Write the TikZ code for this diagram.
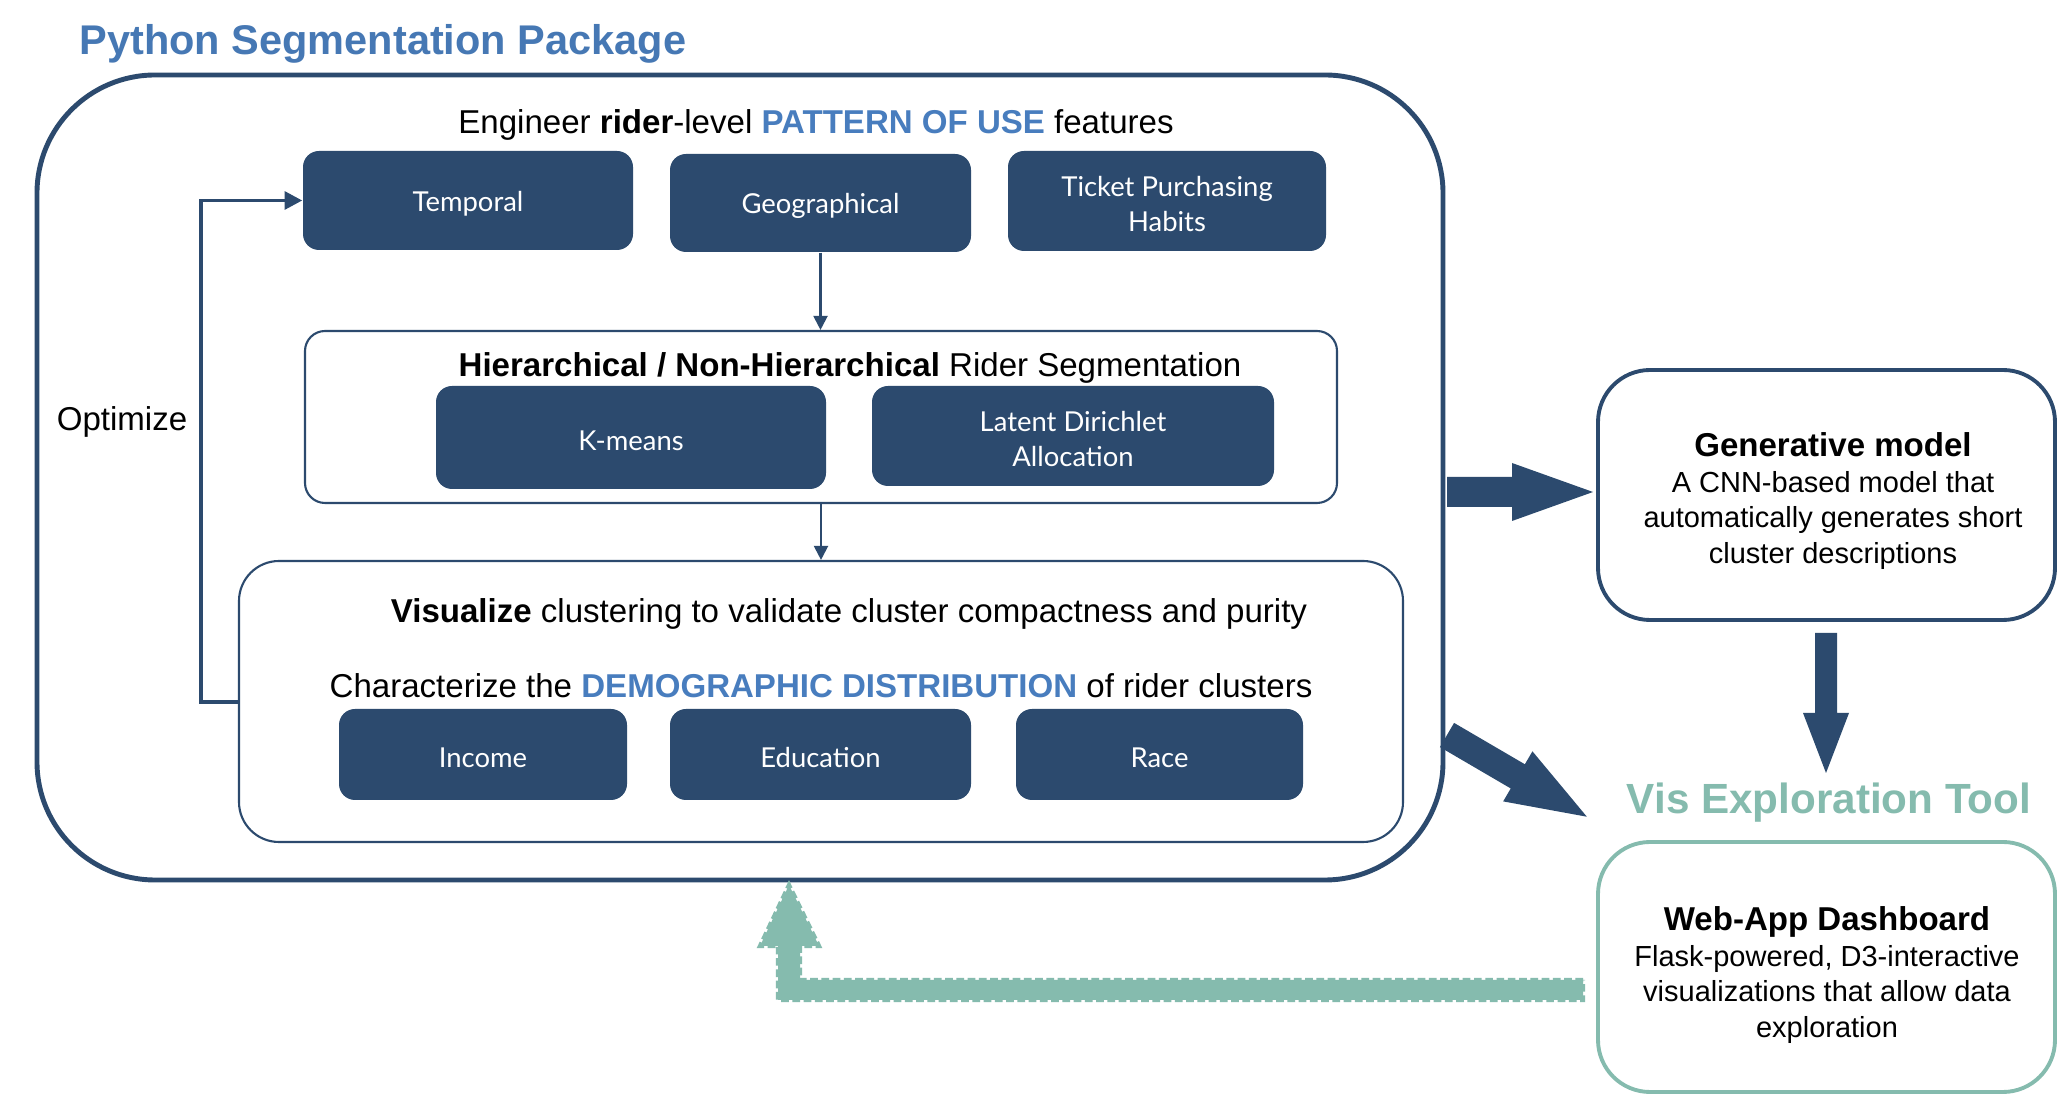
\documentclass[tikz,border=0pt]{standalone}
\usepackage{fontspec}
\setmainfont{Liberation Sans}
\newfontfamily\boxfont{Lato}
\usetikzlibrary{fit,arrows.meta}
\definecolor{navy}{RGB}{44,74,110}
\definecolor{titleblue}{RGB}{70,120,180}
\definecolor{accent}{RGB}{72,125,190}
\definecolor{teal}{RGB}{133,187,174}
\begin{document}
\begin{tikzpicture}[x=0.01cm,y=-0.01cm,
  dbox/.style={fill=navy, draw=none, rounded corners=0.16cm, inner sep=0pt},
  dtext/.style={inner sep=0pt, yshift=-0.9pt, text=white, align=center, font=\boxfont\fontsize{7.8}{10}\selectfont},
  thinbox/.style={draw=navy, line width=0.6pt, inner sep=0pt},
  txt/.style={inner sep=0pt, font=\fontsize{9.4}{11}\selectfont},
  thinarrow/.style={draw=navy, line width=0.6pt, -{Triangle[width=4pt,length=4pt]}},
  optarrow/.style={draw=navy, line width=1.1pt, -{Triangle[width=5pt,length=5pt]}},
  fat/.style={fill=navy, draw=none}]
\useasboundingbox (0,0) rectangle (2060,1095);
\fill[white] (0,0) rectangle (2060,1095);

% title
\node[anchor=west, inner sep=0pt, text=titleblue, font=\bfseries\fontsize{11.8}{14}\selectfont] (title) at (79,44) {Python Segmentation Package};

% outer box
\node[draw=navy, line width=1.4pt, rounded corners=1.18cm, inner sep=0pt, fit={(37,75) (1443,880)}] (outer) {};

\node[txt] (eng) at (816,125) {Engineer \textbf{rider}-level \textcolor{accent}{\textbf{PATTERN OF USE}} features};

\node[dbox, fit={(303,151) (633,250)}] (temporal) {};
\node[dtext] at (temporal.center) {Temporal};
\node[dbox, fit={(670,154) (971,252)}] (geo) {};
\node[dtext] at (geo.center) {Geographical};
\node[dbox, fit={(1008,151) (1326,251)}] (ticket) {};
\node[dtext] at (ticket.center) {Ticket Purchasing\\Habits};

% hierarchical box
\node[thinbox, rounded corners=0.2cm, fit={(305,331) (1337,503)}] (hier) {};
\node[txt] (hiertitle) at (850,368) {\textbf{Hierarchical / Non-Hierarchical} Rider Segmentation};
\node[dbox, fit={(436,386) (826,489)}] (kmeans) {};
\node[dtext] at (kmeans.center) {K-means};
\node[dbox, fit={(872,386) (1274,486)}] (lda) {};
\node[dtext] at (lda.center) {Latent Dirichlet\\Allocation};

% visualize box
\node[thinbox, rounded corners=0.4cm, fit={(239,561) (1403,842)}] (vis) {};
\node[txt] (vistitle) at (849,614) {\textbf{Visualize} clustering to validate cluster compactness and purity};
\node[txt] (chartitle) at (821,686) {Characterize the \textcolor{accent}{\textbf{DEMOGRAPHIC DISTRIBUTION}} of rider clusters};
\node[dbox, fit={(339,709) (627,800)}] (income) {};
\node[dtext] at (income.center) {Income};
\node[dbox, fit={(670,709) (971,800)}] (edu) {};
\node[dtext] at (edu.center) {Education};
\node[dbox, fit={(1016,709) (1303,800)}] (race) {};
\node[dtext] at (race.center) {Race};

% thin arrows
\draw[thinarrow] (geo.south) -- (geo.south |- hier.north);
\draw[thinarrow] (hier.south) -- (hier.south |- vis.north);

% optimize loop
\coordinate (optc) at (201,702);
\draw[optarrow] (vis.west |- optc) -- (optc) |- (temporal.west);
\node[txt] (opt) at (122,422) {Optimize};

% generative model
\node[draw=navy, line width=1.1pt, rounded corners=0.52cm, inner sep=0pt, fit={(1598,370) (2055,620)}] (gen) {};
\node[inner sep=0pt, align=center, font=\fontsize{8.25}{10.1}\selectfont] (gentext) at (1833,501)
  {{\bfseries\fontsize{9.4}{11}\selectfont Generative model}\\A CNN-based model that\\automatically generates short\\cluster descriptions};

% vis exploration tool
\node[inner sep=0pt, text=teal, font=\bfseries\fontsize{12}{14}\selectfont] (vistool) at (1829,803) {Vis Exploration Tool};
\node[draw=teal, line width=1.1pt, rounded corners=0.52cm, inner sep=0pt, fit={(1598,842) (2055,1092)}] (web) {};
\node[inner sep=0pt, align=center, font=\fontsize{8.25}{10.1}\selectfont] (webtext) at (1827,975)
  {{\bfseries\fontsize{9.4}{11}\selectfont Web-App Dashboard}\\Flask-powered, D3-interactive\\visualizations that allow data\\exploration};

% fat arrows
\begin{scope}[shift={(1447,492)}]
  \fill[fat] (0,-15) -- (65,-15) -- (65,-29) -- (146,0) -- (65,29) -- (65,15) -- (0,15) -- cycle;
\end{scope}
\begin{scope}[shift={(1447,735)}, rotate=-30.3]
  \fill[fat] (0,-14) -- (82,-14) -- (82,-29) -- (162,0) -- (82,29) -- (82,14) -- (0,14) -- cycle;
\end{scope}
\begin{scope}[shift={(1826,633)}, rotate=-90]
  \fill[fat] (0,-11) -- (80,-11) -- (80,-23) -- (140,0) -- (80,23) -- (80,11) -- (0,11) -- cycle;
\end{scope}

% green dashed arrow back
\fill[teal] (1583,980) -- (800,980) -- (800,946) -- (819,946) -- (789,885) -- (760,946) -- (778,946) -- (778,1000) -- (1583,1000) -- cycle;
\draw[teal, line width=1.2pt, dash pattern=on 2.2pt off 1pt] (1583,980) -- (800,980) -- (800,946) -- (819,946) -- (789,885) -- (760,946) -- (778,946) -- (778,1000) -- (1583,1000) -- cycle;
\end{tikzpicture}
\end{document}
